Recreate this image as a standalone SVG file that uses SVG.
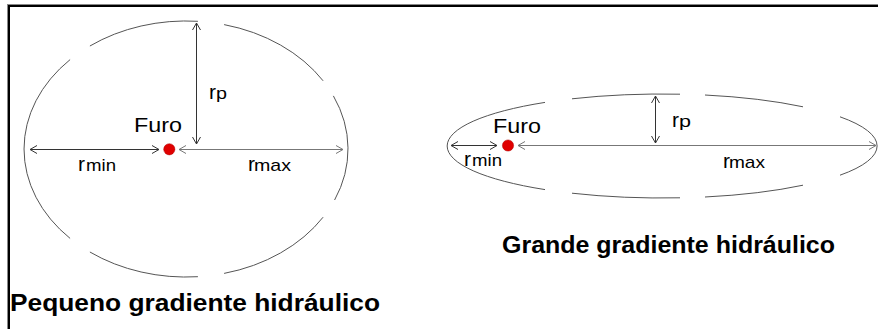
<svg xmlns="http://www.w3.org/2000/svg" width="878" height="329" viewBox="0 0 878 329">
<style>
.ell{fill:none;stroke:#555;stroke-width:1}
.arr{fill:none;stroke:#333;stroke-width:1}
.arrg{fill:none;stroke:#777;stroke-width:1}
.lbl{font-family:"Liberation Sans",Arial,sans-serif;fill:#000}
.big{font-size:21px}
.sub{font-size:17px}
.title{font-family:"Liberation Sans",Arial,sans-serif;font-weight:bold;font-size:24px;fill:#000}
.dot{fill:#e00000;stroke:#b00000;stroke-width:0.5}
</style>
<defs>
<marker id="ah" viewBox="0 0 8 10" refX="7.5" refY="5" markerWidth="8" markerHeight="10" markerUnits="userSpaceOnUse" orient="auto-start-reverse">
<path d="M0.5,1 L7.5,5 L0.5,9" fill="none" stroke="#333" stroke-width="1"/>
</marker>
<marker id="ahg" viewBox="0 0 8 10" refX="7.5" refY="5" markerWidth="8" markerHeight="10" markerUnits="userSpaceOnUse" orient="auto-start-reverse">
<path d="M0.5,1 L7.5,5 L0.5,9" fill="none" stroke="#777" stroke-width="1"/>
</marker>
</defs>
<rect width="878" height="329" fill="#fff"/>
<g id="frame">
<line x1="7" y1="4.5" x2="878" y2="4.5" stroke="#888" stroke-width="1"/>
<line x1="8" y1="6" x2="878" y2="6" stroke="#000" stroke-width="2"/>
<line x1="7.5" y1="4" x2="7.5" y2="329" stroke="#888" stroke-width="1"/>
<line x1="9" y1="5" x2="9" y2="329" stroke="#000" stroke-width="2"/>
</g>
<g id="ellipse-small-gradient">
<path class="ell" d="M70.1,59.6 A162,128 0 0,0 70.1,238.4"/>
<path class="ell" d="M89.9,46 A162,128 0 0,1 197.9,21.3"/>
<path class="ell" d="M224.1,24.6 A162,128 0 0,1 323.1,80.8"/>
<path class="ell" d="M333.4,95.9 A162,128 0 0,1 334.6,200"/>
<path class="ell" d="M323.1,217.2 A162,128 0 0,1 224.1,273.4"/>
<path class="ell" d="M197.9,276.7 A162,128 0 0,1 89.9,252"/>
</g>
<g id="ellipse-large-gradient">
<path class="ell" d="M545,102.4 A215,52 0 0,0 545,189.6"/>
<path class="ell" d="M572,98.8 A215,52 0 0,1 680,94.2"/>
<path class="ell" d="M705,95 A215,52 0 0,1 803,106.8"/>
<path class="ell" d="M840,116.8 A215,52 0 0,1 840,175.2"/>
<path class="ell" d="M803,185.2 A215,52 0 0,1 705,197"/>
<path class="ell" d="M680,197.8 A215,52 0 0,1 572,193.2"/>
</g>
<g id="connectors">
<line class="arr" x1="196.5" y1="23" x2="196.5" y2="144" marker-start="url(#ah)" marker-end="url(#ah)"/>
<line class="arr" x1="30" y1="149.5" x2="159" y2="149.5" marker-start="url(#ah)" marker-end="url(#ah)"/>
<line class="arrg" x1="179" y1="149.5" x2="343" y2="149.5" marker-start="url(#ahg)" marker-end="url(#ahg)"/>
<line class="arr" x1="655.5" y1="96" x2="655.5" y2="143" marker-start="url(#ah)" marker-end="url(#ah)"/>
<line class="arr" x1="451" y1="145.5" x2="497" y2="145.5" marker-start="url(#ah)" marker-end="url(#ah)"/>
<line class="arrg" x1="518" y1="145.5" x2="876" y2="145.5" marker-start="url(#ahg)" marker-end="url(#ahg)"/>
</g>
<g id="furo-left">
<circle class="dot" cx="169.3" cy="149.3" r="5.6"/>
<text class="lbl big" x="134" y="132" textLength="48" lengthAdjust="spacingAndGlyphs">Furo</text>
</g>
<g id="labels-left">
<text class="lbl" x="209" y="99"><tspan class="big">r</tspan><tspan class="sub" x="216" textLength="11" lengthAdjust="spacingAndGlyphs">p</tspan></text>
<text class="lbl" x="78" y="171"><tspan class="big">r</tspan><tspan class="sub" x="86" textLength="30" lengthAdjust="spacingAndGlyphs">min</tspan></text>
<text class="lbl" x="248" y="171"><tspan class="big">r</tspan><tspan class="sub" x="254" textLength="37" lengthAdjust="spacingAndGlyphs">max</tspan></text>
</g>
<g id="furo-right">
<circle class="dot" cx="508" cy="145.5" r="5.6"/>
<text class="lbl big" x="493" y="133" textLength="48" lengthAdjust="spacingAndGlyphs">Furo</text>
</g>
<g id="labels-right">
<text class="lbl" x="672" y="127"><tspan class="big">r</tspan><tspan class="sub" x="679" textLength="12" lengthAdjust="spacingAndGlyphs">p</tspan></text>
<text class="lbl" x="464" y="166"><tspan class="big">r</tspan><tspan class="sub" x="472" textLength="30" lengthAdjust="spacingAndGlyphs">min</tspan></text>
<text class="lbl" x="723" y="168"><tspan class="big">r</tspan><tspan class="sub" x="729" textLength="36" lengthAdjust="spacingAndGlyphs">max</tspan></text>
</g>
<g id="titles">
<text class="title" x="10" y="311" textLength="370" lengthAdjust="spacingAndGlyphs">Pequeno gradiente hidráulico</text>
<text class="title" x="502" y="253" textLength="333" lengthAdjust="spacingAndGlyphs">Grande gradiente hidráulico</text>
</g>
</svg>
